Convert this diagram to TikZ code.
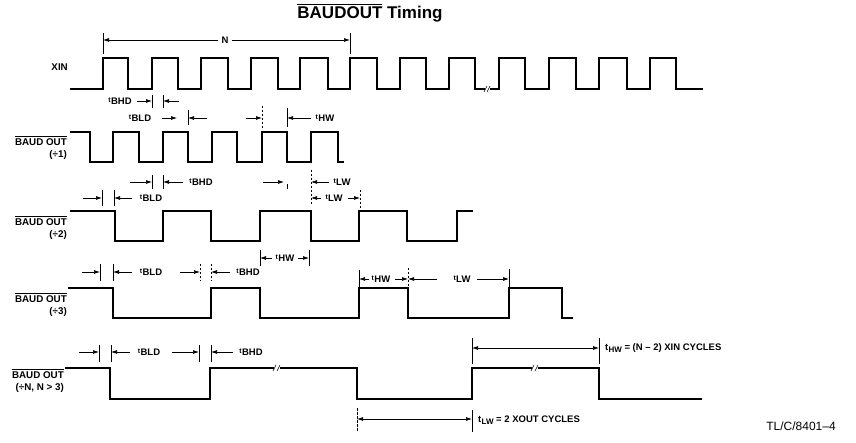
\documentclass[tikz,border=0pt]{standalone}
\usepackage{fontspec}
\setmainfont{Liberation Sans}
\usetikzlibrary{arrows.meta}
\newcommand\ovl[1]{\leavevmode\vbox{\hrule height 0.9pt\kern0.9pt\hbox{#1}}}
\newcommand\tsub[1]{{\fontsize{7}{7}\selectfont\raisebox{2pt}{t}}\kern0.4pt #1}
\newcommand\tlow[1]{t\kern0.2pt\raisebox{-1.8pt}{\fontsize{8}{8}\selectfont #1}}
\tikzset{
  wave/.style={line width=2.6pt, line join=miter},
  dim/.style={line width=0.7pt},
  tick/.style={line width=0.7pt},
  dtick/.style={line width=0.7pt, dash pattern=on 2.5pt off 1.5pt},
  arr/.style={dim, -{Latex[length=6pt,width=4pt]}},
  darr/.style={dim, {Latex[length=6pt,width=4pt]}-{Latex[length=6pt,width=4pt]}},
  tl/.style={font=\bfseries\fontsize{9.5}{10}\selectfont, inner sep=0pt},
  rowlbl/.style={font=\bfseries\fontsize{9.8}{12.5}\selectfont, inner sep=0pt, align=right, anchor=east},
  brk/.style={line width=0.5pt}
}
\begin{document}
\begin{tikzpicture}[x=1pt,y=-1pt]
\useasboundingbox (0,0) rectangle (856,443);
% title
\node[font=\bfseries\fontsize{17}{18}\selectfont, inner sep=0pt] (title) at (370,13) {\ovl{BAUDOUT} Timing};
% row labels
\node[rowlbl] (lxin) at (68,67) {XIN};
\node[rowlbl] (l1) at (67,148) {\ovl{BAUD OUT}\\(÷1)};
\node[rowlbl] (l2) at (67,228) {\ovl{BAUD OUT}\\(÷2)};
\node[rowlbl] (l3) at (67,305) {\ovl{BAUD OUT}\\(÷3)};
\node[rowlbl] (l4) at (64,381) {\ovl{BAUD OUT}\\(÷N, N > 3)};
% XIN waveform
\draw[wave] (70,89) -- (103,89) -- (103,58) -- (128,58) -- (128,89)
  -- (152,89) -- (152,58) -- (178,58) -- (178,89)
  -- (201,89) -- (201,58) -- (228,58) -- (228,89)
  -- (251,89) -- (251,58) -- (278,58) -- (278,89)
  -- (300,89) -- (300,58) -- (328,58) -- (328,89)
  -- (350,89) -- (350,58) -- (377,58) -- (377,89)
  -- (400,89) -- (400,58) -- (426,58) -- (426,89)
  -- (449,89) -- (449,58) -- (475,58) -- (475,89)
  -- (499,89) -- (499,58) -- (525,58) -- (525,89)
  -- (549,89) -- (549,58) -- (576,58) -- (576,89)
  -- (599,89) -- (599,58) -- (627,58) -- (627,89)
  -- (650,89) -- (650,58) -- (676,58) -- (676,89) -- (703,89);
\fill[white] (485,86) rectangle (490,92);
\draw[brk] (484,92) -- (487,86) (487,92) -- (490,86);
% BAUDOUT /1
\draw[wave] (70,132) -- (90,132) -- (90,162) -- (113,162) -- (113,132)
  -- (139,132) -- (139,162) -- (163,162) -- (163,132)
  -- (188,132) -- (188,162) -- (212,162) -- (212,132)
  -- (237,132) -- (237,162) -- (262,162) -- (262,132)
  -- (287,132) -- (287,162) -- (311,162) -- (311,132)
  -- (338,132) -- (338,162) -- (344,162);
% BAUDOUT /2
\draw[wave] (70,211) -- (115,211) -- (115,241) -- (163,241) -- (163,211)
  -- (211,211) -- (211,241) -- (260,241) -- (260,211)
  -- (311,211) -- (311,241) -- (359,241) -- (359,211)
  -- (407,211) -- (407,241) -- (457,241) -- (457,211) -- (473,211);
% BAUDOUT /3
\draw[wave] (68,288) -- (113,288) -- (113,318) -- (211,318) -- (211,288)
  -- (260,288) -- (260,318) -- (359,318) -- (359,288)
  -- (408,288) -- (408,318) -- (509,318) -- (509,288)
  -- (562,288) -- (562,318) -- (573,318);
% BAUDOUT /N
\draw[wave] (65,368) -- (110,368) -- (110,399) -- (210,399) -- (210,368)
  -- (357,368) -- (357,399) -- (472,399) -- (472,368)
  -- (599,368) -- (599,399) -- (702,399);
\fill[white] (274,365) rectangle (280,371);
\draw[brk] (273,371) -- (276,365) (277,371) -- (280,365);
\fill[white] (532,365) rectangle (538,371);
\draw[brk] (531,371) -- (534,365) (535,371) -- (538,365);
% N
\draw[tick] (103,33) -- (103,54);
\draw[tick] (350,33) -- (350,54);
\node[tl] (nn) at (225,40) {N};
\draw[arr] (nn.west) ++(-3,0) -- (103,40);
\draw[arr] (nn.east) ++(3,0) -- (350,40);
% row A
\node[tl] (a1) at (120,101) {\tsub{BHD}};
\draw[arr] (137,101) -- (152,101); \draw[tick] (152,95) -- (152,108);
\draw[tick] (163,95) -- (163,108); \draw[arr] (179,101) -- (163,101);
% row B
\node[tl] (b1) at (140,118) {\tsub{BLD}};
\draw[arr] (162,118) -- (177,118);
\draw[tick] (188,110) -- (188,125); \draw[arr] (207,118) -- (188,118);
\draw[arr] (246,118) -- (262,118); \draw[dtick] (262,106) -- (262,128);
\draw[tick] (287,108) -- (287,127); \draw[arr] (311,118) -- (287,118);
\node[tl] (b2) at (325,118) {\tsub{HW}};
% row C
\draw[arr] (130,182) -- (152,182); \draw[tick] (152,175) -- (152,189);
\draw[tick] (163,175) -- (163,189); \draw[arr] (183,182) -- (163,182);
\node[tl] (c1) at (201,182) {\tsub{BHD}};
\draw[arr] (263,182) -- (284,182); \draw[tick] (287,184) -- (287,189);
\draw[dtick] (311,170) -- (311,205); \draw[arr] (329,182) -- (311,182);
\node[tl] (c2) at (342,182) {\tsub{LW}};
% row D
\draw[arr] (83,198) -- (102,198); \draw[tick] (102,190) -- (102,206);
\draw[tick] (114,190) -- (114,206); \draw[arr] (132,198) -- (114,198);
\node[tl] (d1) at (151,198) {\tsub{BLD}};
\draw[arr] (321,198) -- (311,198);
\node[tl] (d2) at (334,198) {\tsub{LW}};
\draw[arr] (348,198) -- (360,198); \draw[dtick] (360,190) -- (360,208);
% row E
\draw[tick] (260,250) -- (260,266); \draw[tick] (309,250) -- (309,266);
\draw[arr] (272,258) -- (260,258);
\node[tl] (e1) at (285,258) {\tsub{HW}};
\draw[arr] (298,258) -- (309,258);
% row F left
\draw[arr] (82,272) -- (100,272); \draw[tick] (100,264) -- (100,281);
\draw[tick] (113,264) -- (113,281); \draw[arr] (132,272) -- (113,272);
\node[tl] (f1) at (151,272) {\tsub{BLD}};
\draw[arr] (180,272) -- (200,272); \draw[dtick] (200,264) -- (200,281);
\draw[dtick] (211,264) -- (211,281); \draw[arr] (230,272) -- (211,272);
\node[tl] (f2) at (248,272) {\tsub{BHD}};
% row F right
\draw[tick] (359,270) -- (359,287);
\draw[arr] (369,279) -- (359,279);
\node[tl] (f3) at (381,279) {\tsub{HW}};
\draw[arr] (395,279) -- (408,279); \draw[dtick] (408,268) -- (408,290);
\draw[arr] (437,279) -- (408,279);
\node[tl] (f4) at (462,279) {\tsub{LW}};
\draw[arr] (477,279) -- (509,279); \draw[tick] (509,269) -- (509,287);
% row G
\draw[arr] (79,352) -- (99,352); \draw[tick] (99,345) -- (99,362);
\draw[tick] (111,345) -- (111,362); \draw[arr] (130,352) -- (111,352);
\node[tl] (g1) at (149,352) {\tsub{BLD}};
\draw[arr] (172,352) -- (199,352); \draw[tick] (199,345) -- (199,362);
\draw[tick] (211,345) -- (211,362); \draw[arr] (233,352) -- (211,352);
\node[tl] (g2) at (251,352) {\tsub{BHD}};
% row H
\draw[tick] (472,338) -- (472,364); \draw[tick] (599,338) -- (599,364);
\draw[darr] (472,348) -- (599,348);
\node[tl, anchor=west] (h1) at (605,348) {\tlow{HW} = (N – 2) XIN CYCLES};
\draw[dtick] (357,408) -- (357,432); \draw[tick] (472,410) -- (472,432);
\draw[darr] (357,419) -- (472,419);
\node[tl, anchor=west] (h2) at (478,420) {\tlow{LW} = 2 XOUT CYCLES};
% footer
\node[font=\fontsize{12}{13}\selectfont, inner sep=0pt] (foot) at (801,426) {TL/C/8401–4};
\end{tikzpicture}
\end{document}
